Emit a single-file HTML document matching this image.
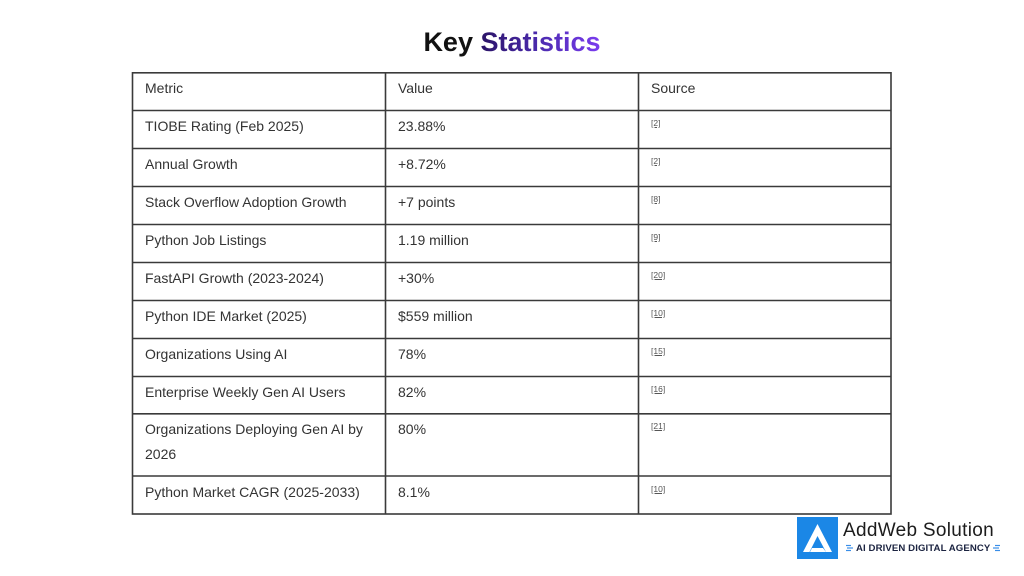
<!DOCTYPE html>
<html><head><meta charset="utf-8">
<style>
html,body{margin:0;padding:0;background:#fff;}
body{width:1024px;height:576px;position:relative;overflow:hidden;font-family:"Liberation Sans",sans-serif;}
.t{position:absolute;font-size:14px;color:#333;line-height:25px;white-space:nowrap;}
.s{position:absolute;font-size:8.5px;color:#555;text-decoration:underline;line-height:10px;}
#title{position:absolute;left:0;width:1024px;top:26px;text-align:center;font-size:27px;font-weight:bold;line-height:32px;color:#111;}
#title span{background:linear-gradient(90deg,#2b1466,#4c2bb0 50%,#7b3cf0);-webkit-background-clip:text;background-clip:text;color:transparent;}
</style></head><body>
<div id="title">Key <span>Statistics</span></div>
<svg width="1024" height="576" style="position:absolute;left:0;top:0">
<g stroke="#3a3a3a" stroke-width="1.6" fill="none">
<rect x="132.5" y="72.8" width="758.5" height="441.2"/>
<line x1="385.5" y1="72.8" x2="385.5" y2="514"/>
<line x1="638.5" y1="72.8" x2="638.5" y2="514"/>
<line x1="132.5" y1="110.5" x2="891" y2="110.5"/>
<line x1="132.5" y1="148.5" x2="891" y2="148.5"/>
<line x1="132.5" y1="186.5" x2="891" y2="186.5"/>
<line x1="132.5" y1="224.5" x2="891" y2="224.5"/>
<line x1="132.5" y1="262.5" x2="891" y2="262.5"/>
<line x1="132.5" y1="300.5" x2="891" y2="300.5"/>
<line x1="132.5" y1="338.5" x2="891" y2="338.5"/>
<line x1="132.5" y1="376.5" x2="891" y2="376.5"/>
<line x1="132.5" y1="413.8" x2="891" y2="413.8"/>
<line x1="132.5" y1="476" x2="891" y2="476"/>
</g>
<rect x="797" y="517" width="41" height="42" fill="#1b87e6"/>
<path d="M817.5 524 L832 552 L826 552 L817.5 536 L809.5 552 L803 552 Z" fill="#fff"/>
<path d="M812 548 L823 548 L826 552 L810 552 Z" fill="#fff"/>
<g stroke="#3a8ee8" stroke-width="1.2">
<line x1="846" y1="545.5" x2="851" y2="545.5"/><line x1="847" y1="548" x2="853" y2="548"/><line x1="846" y1="550.5" x2="851" y2="550.5"/>
<line x1="995" y1="545.5" x2="1000" y2="545.5"/><line x1="993" y1="548" x2="999" y2="548"/><line x1="995" y1="550.5" x2="1000" y2="550.5"/>
</g>
</svg>

<div class="t" style="left:145px;top:76px">Metric</div>
<div class="t" style="left:398px;top:76px">Value</div>
<div class="t" style="left:651px;top:76px">Source</div>

<div class="t" style="left:145px;top:114px">TIOBE Rating (Feb 2025)</div>
<div class="t" style="left:398px;top:114px">23.88%</div>
<div class="s" style="left:651px;top:118px">[2]</div>

<div class="t" style="left:145px;top:152px">Annual Growth</div>
<div class="t" style="left:398px;top:152px">+8.72%</div>
<div class="s" style="left:651px;top:156px">[2]</div>

<div class="t" style="left:145px;top:190px">Stack Overflow Adoption Growth</div>
<div class="t" style="left:398px;top:190px">+7 points</div>
<div class="s" style="left:651px;top:194px">[8]</div>

<div class="t" style="left:145px;top:228px">Python Job Listings</div>
<div class="t" style="left:398px;top:228px">1.19 million</div>
<div class="s" style="left:651px;top:232px">[9]</div>

<div class="t" style="left:145px;top:266px">FastAPI Growth (2023-2024)</div>
<div class="t" style="left:398px;top:266px">+30%</div>
<div class="s" style="left:651px;top:270px">[20]</div>

<div class="t" style="left:145px;top:304px">Python IDE Market (2025)</div>
<div class="t" style="left:398px;top:304px">$559 million</div>
<div class="s" style="left:651px;top:308px">[10]</div>

<div class="t" style="left:145px;top:342px">Organizations Using AI</div>
<div class="t" style="left:398px;top:342px">78%</div>
<div class="s" style="left:651px;top:346px">[15]</div>

<div class="t" style="left:145px;top:380px">Enterprise Weekly Gen AI Users</div>
<div class="t" style="left:398px;top:380px">82%</div>
<div class="s" style="left:651px;top:384px">[16]</div>

<div class="t" style="left:145px;top:417px">Organizations Deploying Gen AI by<br>2026</div>
<div class="t" style="left:398px;top:417px">80%</div>
<div class="s" style="left:651px;top:421px">[21]</div>

<div class="t" style="left:145px;top:480px">Python Market CAGR (2025-2033)</div>
<div class="t" style="left:398px;top:480px">8.1%</div>
<div class="s" style="left:651px;top:484px">[10]</div>

<div style="position:absolute;left:843px;top:520px;font-size:19px;line-height:22px;color:#1c1c1c;white-space:nowrap;letter-spacing:0.3px">AddWeb Solution</div>
<div style="position:absolute;left:856px;top:543px;font-size:9.6px;line-height:11px;font-weight:bold;color:#1b2340;white-space:nowrap;letter-spacing:0.1px">AI DRIVEN DIGITAL AGENCY</div>
</body></html>
